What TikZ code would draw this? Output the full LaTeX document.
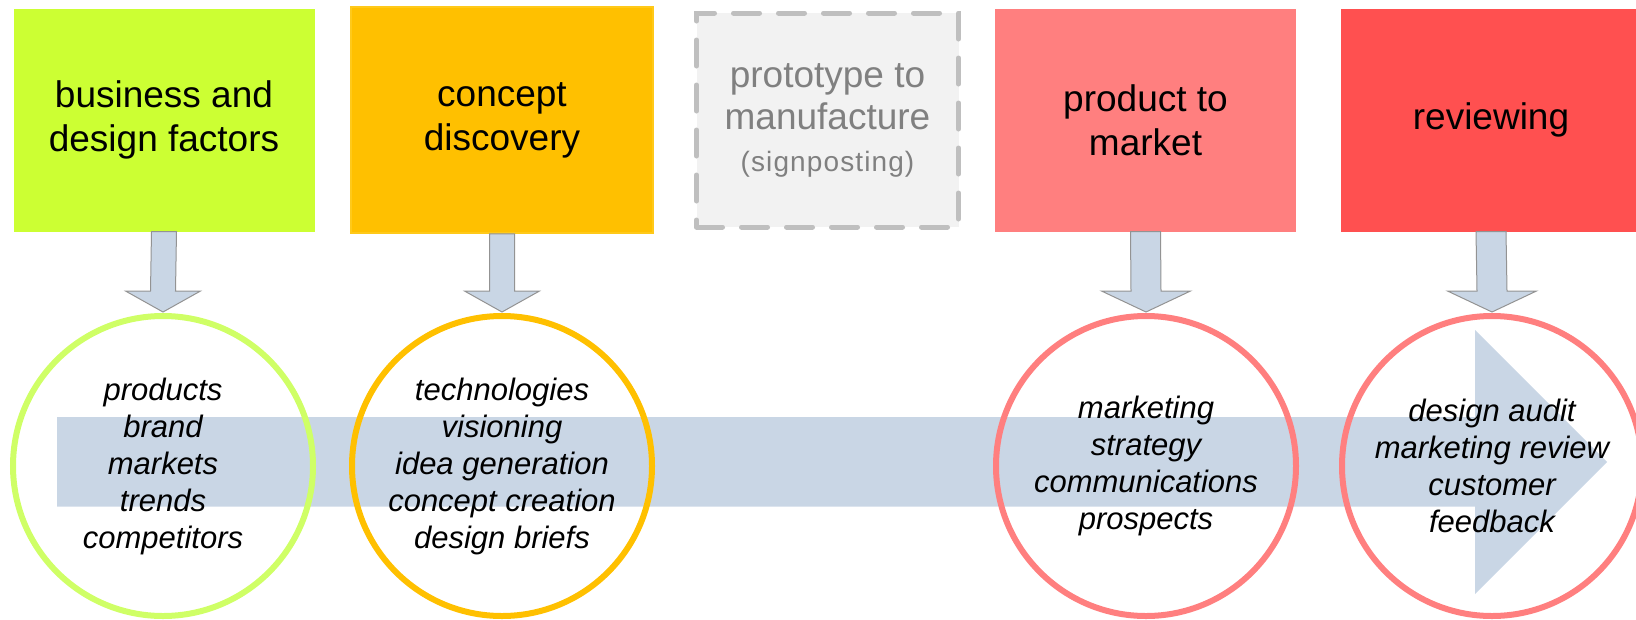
\documentclass[tikz,border=0pt]{standalone}
\usepackage{fontspec}
\setmainfont{Liberation Sans}
\newfontfamily\spacedsans[LetterSpace=4]{Liberation Sans}
\usetikzlibrary{calc}
\definecolor{cGreen}{HTML}{CCFF33}
\definecolor{cGreenLine}{HTML}{CFFF66}
\definecolor{cOrange}{HTML}{FFC000}
\definecolor{cOrangeLine}{HTML}{FFC91A}
\definecolor{cGreyFill}{HTML}{F2F2F2}
\definecolor{cGreyLine}{HTML}{BFBFBF}
\definecolor{cGreyText}{HTML}{808080}
\definecolor{cPink}{HTML}{FF7F7F}
\definecolor{cRed}{HTML}{FF5050}
\definecolor{cBlue}{HTML}{C9D6E5}
\definecolor{cArrowLine}{HTML}{939393}
\newcommand\blkarrow[4]{%
  \filldraw[smallarrow]
    ($(#1.south)+(-#3,0)$) -- ($(#1.south)+(#3,0)$) --
    ($(#2.north)+(#3,-22)$) -- ($(#2.north)+(#4,-22)$) --
    ($(#2.north)+(0,-1)$) --
    ($(#2.north)+(-#4,-22)$) -- ($(#2.north)+(-#3,-22)$) -- cycle;}
\begin{document}
\begin{tikzpicture}[x=1pt,y=-1pt,
  stagebox/.style={rectangle, inner sep=0pt, align=center,
    font=\fontsize{37}{44}\selectfont, minimum height=223pt},
  topicring/.style={circle, draw, line width=6pt, minimum size=300pt,
    inner sep=0pt, align=center, font=\fontsize{31}{37}\selectfont\itshape},
  smallarrow/.style={fill=cBlue, draw=cArrowLine, line width=1pt, line join=miter},
  bigarrow/.style={fill=cBlue}]
\useasboundingbox (0,0) rectangle (1636,619);

% stage boxes
\node[stagebox, fill=cGreen, minimum width=301pt] (b1) at (164,120)
  {business and\\design factors};
\node[stagebox, fill=cOrange, draw=cOrangeLine, line width=1.5pt,
  minimum width=302pt, minimum height=226pt] (b2) at (502,120)
  {concept\\discovery};
\node[stagebox, fill=cGreyFill, draw=cGreyLine, line width=5pt,
  dash pattern=on 26pt off 19pt, line cap=round,
  minimum width=262pt, minimum height=214pt, text=cGreyText,
  font=\fontsize{37}{42}\selectfont] (b3) at (827.5,120)
  {prototype to\\manufacture\\{\spacedsans\fontsize{28}{42}\selectfont (signposting)}};
\node[stagebox, fill=cPink, minimum width=301pt] (b4) at (1145.5,120)
  {product to\\market};
\node[stagebox, fill=cRed, minimum width=301pt] (b5) at (1491,120)
  {reviewing};

% big process arrow
\fill[bigarrow] (57,417) -- (1475,417) -- (1475,330) -- (1607,462)
  -- (1475,594) -- (1475,506.5) -- (57,506.5) -- cycle;

% topic circles
\node[topicring, draw=cGreenLine] (c1) at (163,466)
  {products\\brand\\markets\\trends\\competitors};
\node[topicring, draw=cOrange] (c2) at (502,466)
  {technologies\\visioning\\idea generation\\concept creation\\design briefs};
\node[topicring, draw=cPink] (c4) at (1146,466)
  {marketing\\strategy\\communications\\prospects};
\node[topicring, draw=cPink] (c5) at (1492,466)
  {design audit\\marketing review\\customer\\feedback};

% small block arrows
\blkarrow{b1}{c1}{12.5}{37.5}
\blkarrow{b2}{c2}{12.5}{37.5}
\blkarrow{b4}{c4}{15}{44.5}
\blkarrow{b5}{c5}{15}{44.5}
\end{tikzpicture}
\end{document}
